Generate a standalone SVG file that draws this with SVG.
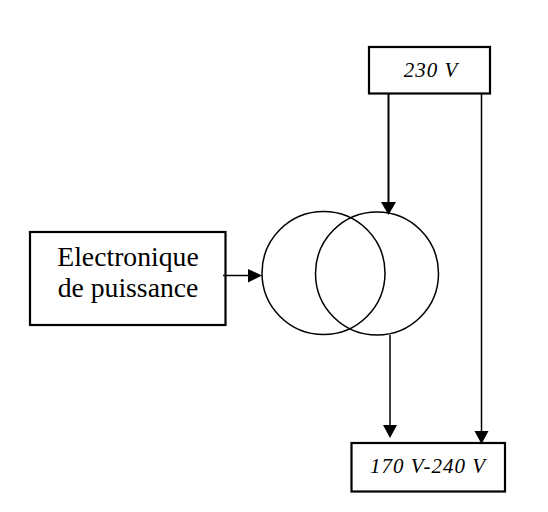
<svg xmlns="http://www.w3.org/2000/svg" width="548" height="512" viewBox="0 0 548 512">
<style>
.box{fill:#fff;stroke:#000;stroke-width:2.200}
.c{fill:none;stroke:#000;stroke-width:1.500}
.l{stroke:#000;fill:none}
.head{fill:#000;stroke:none}
.t{font-family:"Liberation Serif",serif;fill:#000;text-anchor:middle}
.i{font-size:21px;font-style:italic;letter-spacing:1px}
.b{font-size:27.700px}
</style>
<rect width="548" height="512" fill="#fff"/>
<g id="node-230v"><rect class="box" x="369" y="47" width="121" height="46.500"/><text class="t i" x="431" y="77">230 V</text></g>
<g id="node-electronique"><rect class="box" x="30" y="232" width="195.500" height="93"/><text class="t b" x="128" y="266">Electronique</text><text class="t b" x="128" y="297">de puissance</text></g>
<g id="node-output"><rect class="box" x="351.500" y="443" width="153.500" height="48.500"/><text class="t i" x="428" y="473">170 V-240 V</text></g>
<g id="node-transformer"><circle class="c" cx="323.500" cy="273" r="61.500"/><circle class="c" cx="377" cy="273.500" r="61.500"/></g>
<g id="connectors">
<path class="l" stroke-width="2" d="M388.500 94V204"/><polygon class="head" points="381,202 396,202 388.500,215"/>
<path class="l" stroke-width="1.500" d="M481.500 94V433"/><polygon class="head" points="474.500,431 488.500,431 481.500,444"/>
<path class="l" stroke-width="1.500" d="M390 335V427"/><polygon class="head" points="383,425 397,425 390,438"/>
<path class="l" stroke-width="1.500" d="M223 275.500H250"/><polygon class="head" points="248,269 248,282.500 262,275.500"/>
</g>
</svg>
